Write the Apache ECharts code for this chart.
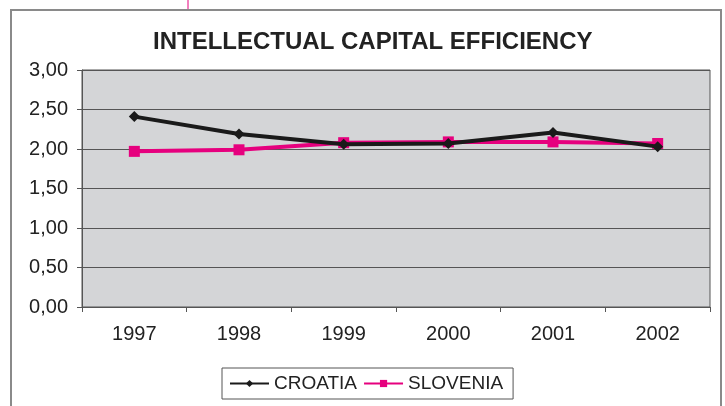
<!DOCTYPE html>
<html>
<head>
<meta charset="utf-8">
<script src="https://cdn.jsdelivr.net/npm/echarts@6/dist/echarts.min.js"></script>
<style>
  html, body { margin: 0; padding: 0; background: #fff; }
  #chart { width: 725px; height: 406px; }
</style>
</head>
<body>
<div id="chart"></div>
<script>
// Intellectual capital efficiency by year
const years = ['1997', '1998', '1999', '2000', '2001', '2002'];
const croatia = [2.41, 2.19, 2.06, 2.07, 2.21, 2.03];
const slovenia = [1.97, 1.99, 2.08, 2.09, 2.09, 2.07];

const chart = echarts.init(document.getElementById('chart'));
const font = 'Liberation Sans, Arial, sans-serif';

chart.setOption({
  backgroundColor: '#fff',
  animation: false,
  title: {
    text: 'INTELLECTUAL CAPITAL EFFICIENCY',
    left: 148,
    top: 25,
    textStyle: { fontFamily: font, fontSize: 24, fontWeight: 'bold', color: '#222' }
  },
  graphic: [
    { type: 'rect', shape: { x: 11, y: 10, width: 710, height: 420 },
      style: { fill: 'none', stroke: '#8a8a8a', lineWidth: 2 }, z: -1 },
    { type: 'line', shape: { x1: 188, y1: 0, x2: 188, y2: 9 },
      style: { stroke: '#e6007e', lineWidth: 1 } }
  ],
  legend: {
    bottom: 7,
    left: 222,
    itemWidth: 39,
    itemHeight: 9,
    itemGap: 6,
    padding: [6, 10, 6, 7],
    borderColor: '#555',
    borderWidth: 1,
    lineStyle: { width: 2 },
    textStyle: { fontFamily: font, fontSize: 19, color: '#222' },
    data: ['CROATIA', 'SLOVENIA']
  },
  grid: { left: 82, right: 15, top: 70, bottom: 99, show: true,
    backgroundColor: '#d4d5d7', borderColor: '#555', borderWidth: 1 },
  xAxis: {
    type: 'category',
    data: years,
    boundaryGap: true,
    axisLine: { lineStyle: { color: '#555' } },
    axisTick: { show: true, length: 5, lineStyle: { color: '#555' } },
    axisLabel: { fontFamily: font, fontSize: 20, color: '#222', margin: 17 }
  },
  yAxis: {
    type: 'value',
    min: 0,
    max: 3,
    interval: 0.5,
    axisLine: { show: true, lineStyle: { color: '#555' } },
    axisTick: { show: true, inside: false, length: 5, lineStyle: { color: '#555' } },
    splitLine: { lineStyle: { color: '#555', width: 1 } },
    axisLabel: { fontFamily: font, fontSize: 20, color: '#222', margin: 14,
      formatter: v => v.toFixed(2).replace('.', ',') }
  },
  series: [
    {
      name: 'SLOVENIA', type: 'line', data: slovenia,
      symbol: 'rect', symbolSize: 11,
      itemStyle: { color: '#e6007e' },
      lineStyle: { color: '#e6007e', width: 4 },
      z: 2
    },
    {
      name: 'CROATIA', type: 'line', data: croatia,
      symbol: 'diamond', symbolSize: 11,
      itemStyle: { color: '#1a1a1a' },
      lineStyle: { color: '#1a1a1a', width: 4 },
      z: 3
    }
  ]
});
</script>
</body>
</html>
